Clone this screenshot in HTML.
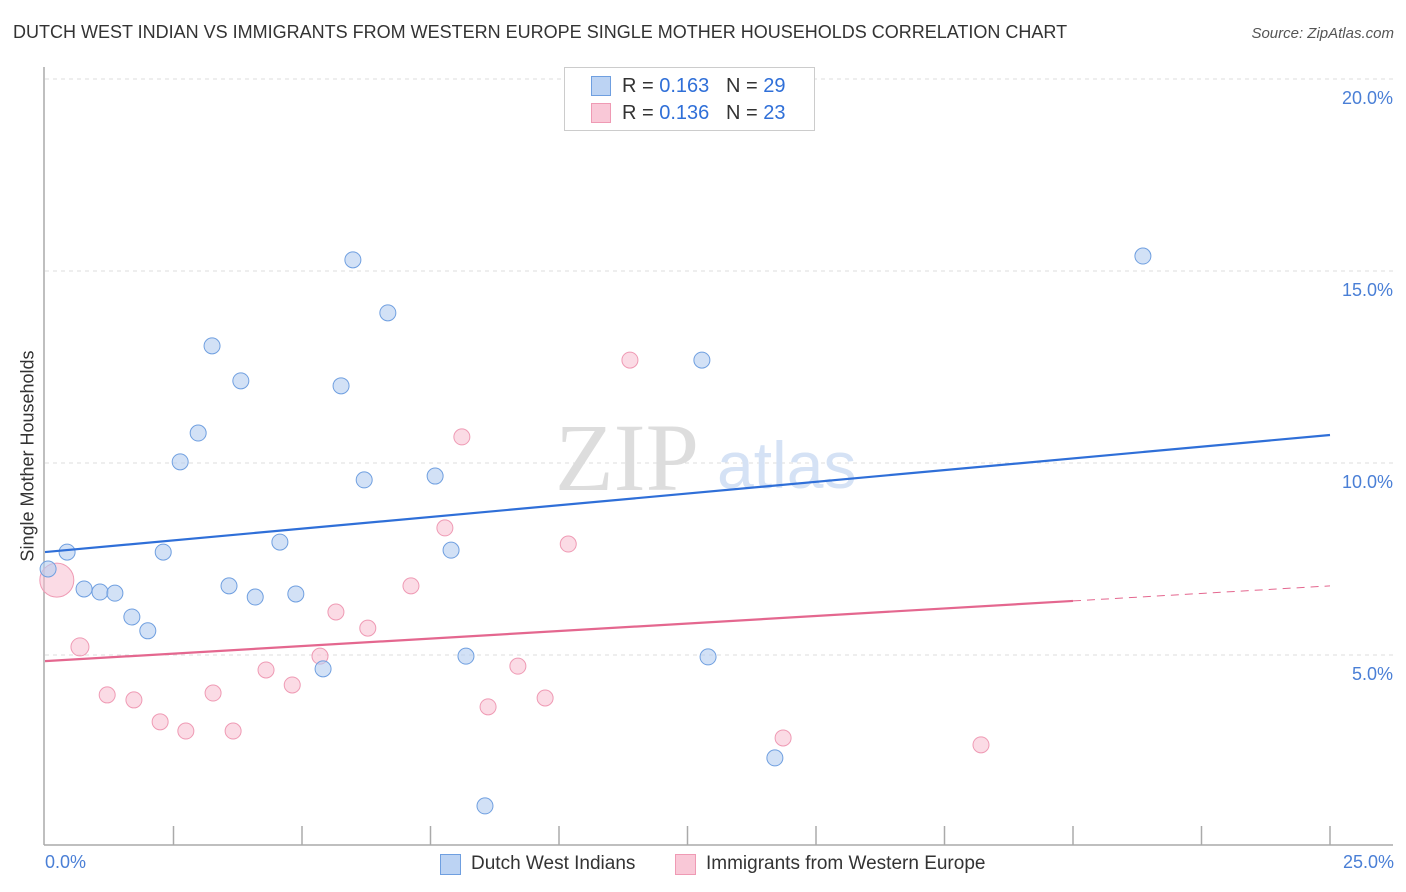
<!DOCTYPE html>
<html><head><meta charset="utf-8"><style>
body{margin:0;background:#fff;font-family:"Liberation Sans",sans-serif;}
#wrap{position:relative;width:1406px;height:892px;overflow:hidden;}
.t{position:absolute;white-space:nowrap;}
</style></head><body>
<div id="wrap">
<div class="t" style="left:13px;top:22px;font-size:18px;color:#333;">DUTCH WEST INDIAN VS IMMIGRANTS FROM WESTERN EUROPE SINGLE MOTHER HOUSEHOLDS CORRELATION CHART</div>
<div class="t" style="right:12px;top:25px;font-size:15px;color:#555;font-style:italic;">Source: ZipAtlas.com</div>
<svg id="svg" width="1406" height="892" style="position:absolute;left:0;top:0"></svg>
</div>
<script>
const blueX=[0.06,0.43,0.76,1.07,1.36,1.69,2.0,2.3,2.63,2.98,3.25,3.58,3.81,4.09,4.57,4.88,5.41,5.76,5.99,6.21,6.67,7.59,7.90,8.19,8.56,12.78,12.9,14.2,21.36];
const blueY=[7.24,7.68,6.72,6.64,6.61,5.99,5.63,7.68,10.03,10.78,13.05,6.80,12.14,6.51,7.94,6.59,4.64,12.01,15.29,9.56,13.91,9.66,7.73,4.97,1.07,12.68,4.95,2.32,15.39];
const pinkX=[0.23,0.68,1.21,1.73,2.24,2.74,3.27,3.66,4.3,4.81,5.35,5.66,6.28,7.12,7.78,8.11,8.62,9.2,9.73,10.18,11.38,14.36,18.21];
const pinkY=[6.95,5.21,3.96,3.83,3.26,3.02,4.01,3.02,4.61,4.22,4.97,6.12,5.70,6.80,8.31,10.68,3.65,4.71,3.88,7.89,12.68,2.84,2.66];
const pinkR=[17,9,8,8,8,8,8,8,8,8,8,8,8,8,8,8,8,8,8,8,8,8,8];
const yTicks=[5,10,15,20];
const yTickLabels=["5.0%","10.0%","15.0%","20.0%"];
const blueTrend=[7.68,10.73];
const pinkTrend=[4.84,6.8];
const X0=45,X1=1330,Y0=847,PY=38.4;
function sx(v){return X0+(X1-X0)*v/25;}
function sy(v){return Y0-v*PY;}
const svg=document.getElementById('svg');
const NS='http://www.w3.org/2000/svg';
function mk(tag,attrs){const e=document.createElementNS(NS,tag);for(const k in attrs)e.setAttribute(k,attrs[k]);svg.appendChild(e);return e;}
yTicks.forEach((v,i)=>{
 const g=mk('line',{x1:45,x2:1393,y1:sy(v),y2:sy(v),stroke:'#ddd','stroke-dasharray':'4,4'});
 
 
 const t=mk('text',{x:1393,y:sy(v)+25,'text-anchor':'end','font-size':18,fill:'#4a7fd6'});
 t.textContent=yTickLabels[i];
 
 
});
const ax=mk('line',{x1:44,x2:44,y1:67,y2:845,stroke:'#aaa','stroke-width':1.5});


const bx=mk('line',{x1:44,x2:1393,y1:845,y2:845,stroke:'#aaa','stroke-width':1.5});


for(let i=1;i<=10;i++){const t=mk('line',{x1:sx(i*2.5),x2:sx(i*2.5),y1:826,y2:845,stroke:'#aaa','stroke-width':1.5});
 
 }
const wm=mk('text',{x:555,y:490,'font-size':96,fill:'#ddd','font-family':'Liberation Serif,serif'});wm.textContent='ZIP';


const wm2=mk('text',{x:717,y:488,'font-size':66,fill:'#d5e2f5'});wm2.textContent='atlas';


pinkX.forEach((x,i)=>{const c=mk('circle',{cx:sx(x),cy:sy(pinkY[i]),r:pinkR[i],fill:'rgba(248,190,208,0.55)',stroke:'#ef9ab4','stroke-width':1});
 
 });
blueX.forEach((x,i)=>{const c=mk('circle',{cx:sx(x),cy:sy(blueY[i]),r:8,fill:'rgba(180,205,240,0.6)',stroke:'#6f9fe0','stroke-width':1});
 
 });
const bl=mk('line',{x1:sx(0),y1:sy(blueTrend[0]),x2:sx(25),y2:sy(blueTrend[1]),stroke:'#2f6fd8','stroke-width':2.2});


const pm=v=>pinkTrend[0]+(pinkTrend[1]-pinkTrend[0])*v/25;
const pl=mk('line',{x1:sx(0),y1:sy(pm(0)),x2:sx(20),y2:sy(pm(20)),stroke:'#e4678f','stroke-width':2.2});


const pd=mk('line',{x1:sx(20),y1:sy(pm(20)),x2:sx(25),y2:sy(pm(25)),stroke:'#e4678f','stroke-width':1,'stroke-dasharray':'8,6'});


</script>
<div class="t" style="left:28px;top:456px;font-size:18px;color:#333;transform:translate(-50%,-50%) rotate(-90deg);">Single Mother Households</div>
<div class="t" style="left:45px;top:852px;font-size:18px;color:#4a7fd6;">0.0%</div>
<div class="t" style="right:12px;top:852px;font-size:18px;color:#4a7fd6;">25.0%</div>
<div style="position:absolute;left:564px;top:67px;width:249px;height:62px;border:1px solid #ccc;background:#fff;font-size:20px;color:#333;">
 <div style="position:absolute;left:26px;top:8px;width:18px;height:18px;background:#bcd3f3;border:1px solid #6f9fe0;"></div>
 <div class="t" style="left:57px;top:7px;">R = <span style="color:#2f6fd8">0.163</span>&nbsp;&nbsp;&nbsp;N = <span style="color:#2f6fd8">29</span></div>
 <div style="position:absolute;left:26px;top:35px;width:18px;height:18px;background:#f9c8d7;border:1px solid #ef9ab4;"></div>
 <div class="t" style="left:57px;top:34px;">R = <span style="color:#2f6fd8">0.136</span>&nbsp;&nbsp;&nbsp;N = <span style="color:#2f6fd8">23</span></div>
</div>
<div style="position:absolute;left:438px;top:853px;font-size:19px;color:#333;">
 <div style="position:absolute;left:2px;top:1px;width:19px;height:19px;background:#bcd3f3;border:1px solid #6f9fe0;"></div>
 <div class="t" style="left:33px;top:0;">Dutch West Indians</div>
 <div style="position:absolute;left:237px;top:1px;width:19px;height:19px;background:#f9c8d7;border:1px solid #ef9ab4;"></div>
 <div class="t" style="left:268px;top:0;">Immigrants from Western Europe</div>
</div>
</body></html>
